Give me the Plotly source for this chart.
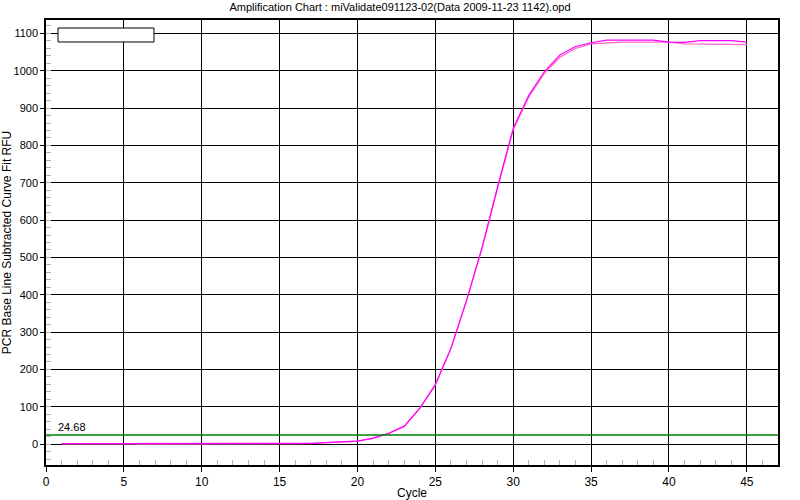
import plotly.graph_objects as go

cycles = list(range(1, 46))

magenta_rfu = [1, 1, 2, 2, 2, 0, 0, 0, 0, 1.5,
               2, 1.5, 1, 1.5, 1, 1, 2, 4, 5, 8,
               16, 29, 48, 96, 160, 257, 385, 527, 690, 846,
               934, 998, 1042, 1065, 1075, 1082, 1082, 1082, 1082, 1077,
               1076, 1081, 1081, 1081, 1077]

pink_rfu = [0.5, 1, 1, 1, 1, 0, 0, 0, 0, 1,
            1, 1, 0.5, 1, 0.5, 0.5, 1, 4, 5, 8,
            15, 28, 47, 95, 158, 255, 383, 524, 686, 842,
            930, 993, 1036, 1060, 1072, 1075, 1077, 1077, 1077, 1077,
            1072, 1072, 1072, 1072, 1070]

threshold = 24.68
title_text = "Amplification Chart : miValidate091123-02(Data 2009-11-23 1142).opd"
x_ticks = [0, 5, 10, 15, 20, 25, 30, 35, 40, 45]
y_ticks = [0, 100, 200, 300, 400, 500, 600, 700, 800, 900, 1000, 1100]

FONT = "Liberation Sans, Arial, sans-serif"

fig = go.Figure()
fig.add_trace(go.Scatter(x=cycles, y=pink_rfu, mode="lines",
                         line=dict(color="#FF66CC", width=1.2), showlegend=False))
fig.add_trace(go.Scatter(x=cycles, y=magenta_rfu, mode="lines",
                         line=dict(color="#FF00FF", width=1.2), showlegend=False))

fig.add_hline(y=threshold, line=dict(color="#008000", width=1.5))
fig.add_annotation(x=0.65, y=threshold, xref="x", yref="y", text=f"{threshold:.2f}",
                   showarrow=False, xanchor="left", yanchor="bottom", yshift=0,
                   font=dict(family=FONT, size=11, color="black"))

# empty legend box
fig.add_shape(type="rect", xref="paper", yref="paper",
              x0=0.0164, x1=0.1475, y0=0.9506, y1=0.982,
              fillcolor="white", line=dict(color="black", width=1), layer="above")

fig.update_layout(
    width=800, height=500,
    margin=dict(l=46, r=22, t=20, b=35, autoexpand=False),
    paper_bgcolor="white", plot_bgcolor="white",
    font=dict(family=FONT, size=11, color="black"),
    title=dict(text=title_text, x=0.5, xanchor="center", y=0.985, yanchor="middle",
               font=dict(family=FONT, size=11, color="black")),
    showlegend=False,
)

fig.update_xaxes(
    range=[0, 47], tickvals=x_ticks, ticks="outside", ticklen=5, tickcolor="black",
    showgrid=True, gridcolor="black", gridwidth=1, automargin=False,
    showline=True, linecolor="black", linewidth=1.5, mirror=True, zeroline=False,
    minor=dict(tickvals=[c for c in cycles if c % 5 != 0] + [46], ticks="inside",
               ticklen=5, tickcolor="#b0b0b0", showgrid=False),
    title=dict(text="Cycle", standoff=0, font=dict(family=FONT, size=12)),
    tickfont=dict(family=FONT, size=12),
)
fig.update_yaxes(
    range=[-56, 1136], tickvals=y_ticks, ticks="outside", ticklen=4, tickcolor="black",
    showgrid=True, gridcolor="black", gridwidth=1, automargin=False,
    showline=True, linecolor="black", linewidth=1.5, mirror=True, zeroline=False,
    minor=dict(dtick=20, ticks="inside", ticklen=5, tickcolor="#b0b0b0", showgrid=False),
    title=dict(text="PCR Base Line Subtracted Curve Fit RFU", standoff=0,
               font=dict(family=FONT, size=12)),
    tickfont=dict(family=FONT, size=11),
)

fig.write_html("out.html", config={"displayModeBar": False},
               post_script="document.body.style.margin='0';document.body.style.overflow='hidden';")
